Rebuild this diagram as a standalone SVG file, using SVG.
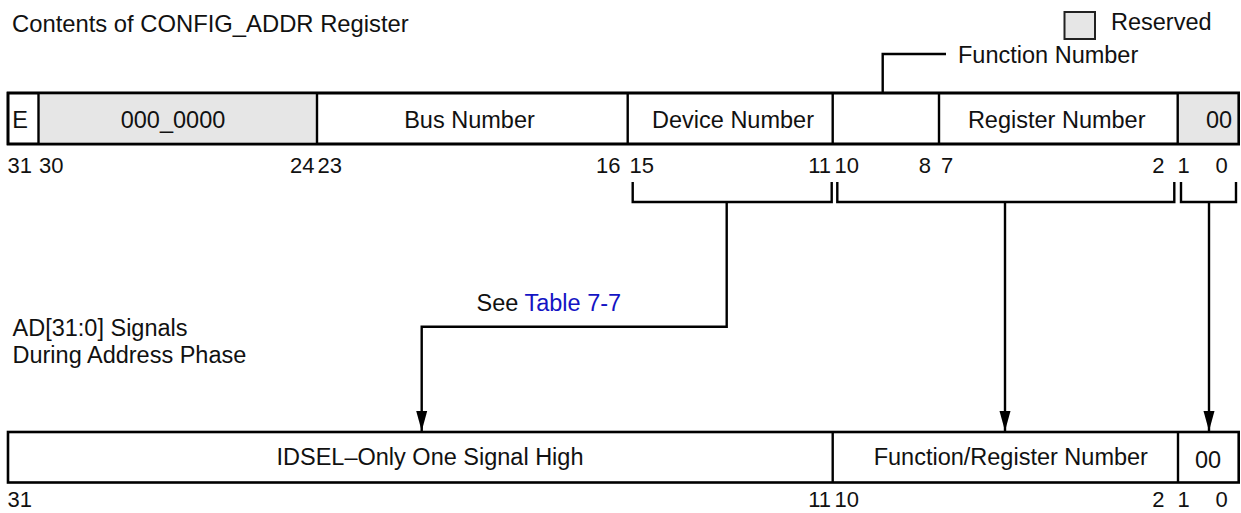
<svg xmlns="http://www.w3.org/2000/svg" width="1241" height="513" viewBox="0 0 1241 513">
<style>
text{font-family:"Liberation Sans",Arial,sans-serif;fill:#111}
.lbl{font-size:23.5px}
.bit{font-size:22px}
.c{text-anchor:middle}
.e{text-anchor:end}
.box{fill:#fff;stroke:#000;stroke-width:2.6}
.res{fill:#e6e6e6}
.sep{stroke:#000;stroke-width:2.4}
.con{fill:none;stroke:#000;stroke-width:2.4}
.link{fill:#1414c4}
</style>
<defs>
<marker id="ah" markerUnits="userSpaceOnUse" markerWidth="22" markerHeight="12" refX="20" refY="6" orient="auto">
<path d="M0,0.5 L20,6 L0,11.5 z" fill="#000"/>
</marker>
</defs>
<rect width="1241" height="513" fill="#fff"/>

<text class="lbl" x="12" y="32" style="font-size:23.8px">Contents of CONFIG_ADDR Register</text>

<g id="legend">
<rect x="1064.5" y="12" width="30.5" height="27" class="res" stroke="#222" stroke-width="2"/>
<text class="lbl" x="1111" y="30">Reserved</text>
</g>

<g id="config-addr">
<rect x="8" y="93" width="1230.7" height="51" class="box"/>
<rect x="38.5" y="93" width="278.5" height="51" class="res"/>
<rect x="1177.7" y="93" width="61" height="51" class="res"/>
<rect x="8" y="93" width="1230.7" height="51" fill="none" stroke="#000" stroke-width="2.6"/>
<line x1="38.5" y1="93" x2="38.5" y2="144" class="sep"/>
<line x1="317" y1="93" x2="317" y2="144" class="sep"/>
<line x1="627.7" y1="93" x2="627.7" y2="144" class="sep"/>
<line x1="832.7" y1="93" x2="832.7" y2="144" class="sep"/>
<line x1="939" y1="93" x2="939" y2="144" class="sep"/>
<line x1="1177.7" y1="93" x2="1177.7" y2="144" class="sep"/>
<text class="lbl c" x="20" y="128">E</text>
<text class="lbl c" x="173" y="128">000_0000</text>
<text class="lbl c" x="469.5" y="128">Bus Number</text>
<text class="lbl c" x="733" y="128">Device Number</text>
<text class="lbl c" x="1056.7" y="128">Register Number</text>
<text class="lbl c" x="1219" y="128">00</text>
<text class="bit" x="7.5" y="173">31</text>
<text class="bit" x="39" y="173">30</text>
<text class="bit e" x="314.5" y="173">24</text>
<text class="bit" x="317.5" y="173">23</text>
<text class="bit e" x="620.5" y="173">16</text>
<text class="bit" x="629.5" y="173">15</text>
<text class="bit e" x="831" y="173">11</text>
<text class="bit" x="834.5" y="173">10</text>
<text class="bit e" x="931" y="173">8</text>
<text class="bit" x="941" y="173">7</text>
<text class="bit e" x="1164.5" y="173">2</text>
<text class="bit" x="1177.5" y="173">1</text>
<text class="bit" x="1215.5" y="173">0</text>
</g>

<g id="function-number-label">
<text class="lbl" x="958" y="62.7">Function Number</text>
</g>

<g id="ad-label">
<text class="lbl" x="12.5" y="336">AD[31:0] Signals</text>
<text class="lbl" x="12.5" y="362.7">During Address Phase</text>
</g>

<g id="see-table">
<text class="lbl" x="476.5" y="310.7">See <tspan class="link">Table 7-7</tspan></text>
</g>

<g id="ad-signals">
<rect x="8" y="432" width="1230.7" height="50.5" class="box"/>
<line x1="832.7" y1="432" x2="832.7" y2="482.5" class="sep"/>
<line x1="1178" y1="432" x2="1178" y2="482.5" class="sep"/>
<text class="lbl c" x="430" y="465">IDSEL–Only One Signal High</text>
<text class="lbl c" x="1010.8" y="465">Function/Register Number</text>
<text class="lbl c" x="1208" y="468">00</text>
<text class="bit" x="7.5" y="507">31</text>
<text class="bit e" x="831" y="507">11</text>
<text class="bit" x="834.5" y="507">10</text>
<text class="bit e" x="1164.5" y="507">2</text>
<text class="bit" x="1177.5" y="507">1</text>
<text class="bit" x="1215.5" y="507">0</text>
</g>

<g id="connectors">
<polyline points="882.7,93 882.7,54 946,54" class="con"/>
<polyline points="632.7,182 632.7,202 831.7,202 831.7,182" class="con"/>
<polyline points="837.3,182 837.3,202 1174.3,202 1174.3,182" class="con"/>
<polyline points="1181,182 1181,202 1236,202 1236,182" class="con"/>
<polyline points="726.7,202 726.7,326.7 421.7,326.7 421.7,431" class="con" marker-end="url(#ah)"/>
<line x1="1005" y1="202" x2="1005" y2="431" class="con" marker-end="url(#ah)"/>
<line x1="1209" y1="202" x2="1209" y2="431" class="con" marker-end="url(#ah)"/>
</g>
</svg>
